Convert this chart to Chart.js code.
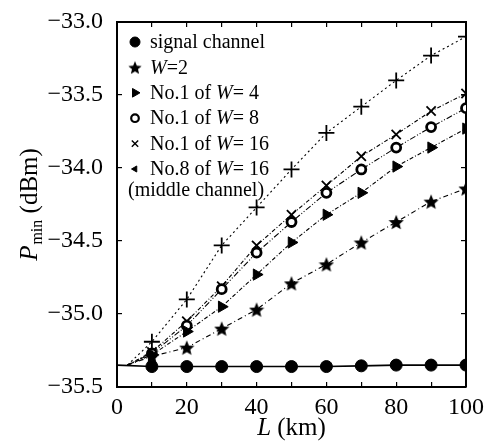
<!DOCTYPE html>
<html lang="en">
  <head>
    <meta charset="UTF-8" />
    <title>Pmin vs L</title>
    <script src="https://cdn.jsdelivr.net/npm/chart.js"></script>
    <style>
      body { margin: 0; background: #fff; }
      canvas { display: block; }
    </style>
  </head>
  <body>
    <canvas id="pminChart" width="486" height="445"></canvas>
    <script>
      // fibre length (km) where markers sit
      const distances = [10, 20, 30, 40, 50, 60, 70, 80, 90, 100];
      // where the fitted curves leave the signal-channel line
      const startL = 3;
      const startP = -35.35;

      const signalChannel = [-35.36, -35.36, -35.36, -35.36, -35.36, -35.36, -35.355, -35.35, -35.35, -35.35];
      const w2 = [-35.29, -35.23, -35.10, -34.97, -34.79, -34.66, -34.51, -34.37, -34.23, -34.14];
      const no1w4 = [-35.28, -35.12, -34.95, -34.73, -34.51, -34.32, -34.17, -33.99, -33.86, -33.73];
      const no1w8 = [-35.27, -35.08, -34.83, -34.58, -34.37, -34.17, -34.01, -33.86, -33.72, -33.59];
      const no1w16 = [-35.26, -35.05, -34.81, -34.53, -34.32, -34.12, -33.92, -33.77, -33.61, -33.49];
      const no8w16 = [-35.19, -34.90, -34.53, -34.27, -34.01, -33.76, -33.58, -33.40, -33.23, -33.10];

      const seriesLabels = ["signal channel", "W=2", "No.1 of W= 4", "No.1 of W= 8", "No.1 of W= 16", "No.8 of W= 16"];
      const xTicks = [0, 10, 20, 30, 40, 50, 60, 70, 80, 90, 100]; // labelled every 20
      const yTicks = [-35.5, -35.0, -34.5, -34.0, -33.5, -33.0];

      const serif = "'Liberation Serif', 'DejaVu Serif', serif";

      // filled five-point star used for W=2
      function makeStar(size) {
        const c = document.createElement("canvas");
        c.width = size;
        c.height = size;
        const g = c.getContext("2d");
        const cx = size / 2, cy = size / 2 + 0.8, ro = size / 2, ri = ro * 0.45;
        g.beginPath();
        for (let i = 0; i < 10; i++) {
          const r = i % 2 ? ri : ro;
          const ang = -Math.PI / 2 + (i * Math.PI) / 5;
          g.lineTo(cx + r * Math.cos(ang), cy + r * Math.sin(ang));
        }
        g.closePath();
        g.fillStyle = "#000";
        g.fill();
        return c;
      }
      const starImg = makeStar(16);
      const starSmall = makeStar(14);

      function withStart(vals) {
        return [{ x: startL, y: startP }].concat(distances.map((x, i) => ({ x: x, y: vals[i] })));
      }
      const hideFirst = (r) => (c) => (c.dataIndex === 0 ? 0 : r);

      const datasets = [
        {
          label: seriesLabels[0],
          data: [{ x: 0, y: startP }].concat(distances.map((x, i) => ({ x: x, y: signalChannel[i] }))),
          borderWidth: 1.6,
          pointStyle: "circle",
          pointRadius: hideFirst(6),
          pointBackgroundColor: "#000",
        },
        {
          label: seriesLabels[1],
          data: withStart(w2),
          borderDash: [5, 3, 1, 3],
          pointStyle: starImg,
          pointRadius: hideFirst(7),
        },
        {
          label: seriesLabels[2],
          data: withStart(no1w4),
          borderDash: [4, 2, 1, 2],
          pointStyle: "triangle",
          pointRotation: 90,
          pointRadius: hideFirst(6.5),
          pointBackgroundColor: "#000",
        },
        {
          label: seriesLabels[3],
          data: withStart(no1w8),
          borderDash: [6, 2, 1, 2, 1, 2],
          pointStyle: "circle",
          pointRadius: hideFirst(4.5),
          pointBorderWidth: 2.8,
          pointBackgroundColor: "#fff",
        },
        {
          label: seriesLabels[4],
          data: withStart(no1w16),
          borderDash: [4, 2, 1, 2],
          pointStyle: "crossRot",
          pointRadius: hideFirst(6.5),
          pointBorderWidth: 1.8,
        },
        {
          label: seriesLabels[5],
          data: withStart(no8w16),
          borderDash: [2, 3],
          pointStyle: "cross",
          pointRadius: hideFirst(8),
          pointBorderWidth: 1.8,
        },
      ].map((d) => Object.assign({ borderColor: "#000", borderWidth: 1.1, showLine: true, fill: false, pointBorderColor: "#000", pointBorderWidth: d.pointBorderWidth || 1 }, d));

      // legend markers (the last one uses a small left triangle, as in the figure)
      const legendMarks = [
        { style: "circle", r: 5, fill: "#000", bw: 1 },
        { style: starSmall, r: 6 },
        { style: "triangle", r: 5, rot: 90, fill: "#000", bw: 1 },
        { style: "circle", r: 3.8, fill: "#fff", bw: 2.2 },
        { style: "crossRot", r: 4.5, bw: 1.4 },
        { style: "triangle", r: 3.5, rot: -90, fill: "#000", bw: 1 },
      ];

      function drawRich(g, text, x, y, size) {
        // W is italic, everything else upright
        const parts = text.split("W");
        parts.forEach((p, i) => {
          g.font = size + "px " + serif;
          g.fillText(p, x, y);
          x += g.measureText(p).width;
          if (i < parts.length - 1) {
            g.font = "italic " + size + "px " + serif;
            g.fillText("W", x, y);
            x += g.measureText("W").width;
          }
        });
      }

      const decor = {
        id: "decor",
        afterDraw(chart) {
          const g = chart.ctx;
          const xs = chart.scales.x, ys = chart.scales.y;
          const f = {
            l: xs.getPixelForValue(0), r: xs.getPixelForValue(100),
            t: ys.getPixelForValue(-33.0), b: ys.getPixelForValue(-35.5),
          };
          g.save();

          // legend inside the plot
          const mx = f.l + 18, tx = f.l + 33;
          g.textBaseline = "middle";
          g.textAlign = "left";
          g.strokeStyle = "#000";
          seriesLabels.forEach((lab, i) => {
            const y = f.t + 20 + i * 25.4;
            const m = legendMarks[i];
            g.lineWidth = m.bw || 1;
            g.fillStyle = m.fill || "#000";
            if (typeof m.style === "string") {
              Chart.helpers.drawPoint(g, { pointStyle: m.style, radius: m.r, rotation: m.rot || 0, borderWidth: m.bw || 1 }, mx, y);
            } else {
              g.drawImage(m.style, mx - m.style.width / 2, y - m.style.height / 2);
            }
            g.fillStyle = "#000";
            drawRich(g, lab, tx, y + 1, 20);
          });
          g.font = "20px " + serif;
          g.fillText("(middle channel)", f.l + 11, f.t + 20 + 6 * 25.4 - 4);

          // x title
          g.textBaseline = "alphabetic";
          g.font = "italic 25px " + serif;
          const wL = g.measureText("L").width;
          g.font = "25px " + serif;
          const wKm = g.measureText(" (km)").width;
          const x0 = (f.l + f.r) / 2 - (wL + wKm) / 2;
          g.font = "italic 25px " + serif;
          g.fillText("L", x0, 435);
          g.font = "25px " + serif;
          g.fillText(" (km)", x0 + wL, 435);

          // y title, rotated
          g.translate(37, (f.t + f.b) / 2);
          g.rotate(-Math.PI / 2);
          g.font = "italic 25px " + serif;
          const wP = g.measureText("P").width;
          g.font = "16px " + serif;
          const wMin = g.measureText("min").width;
          g.font = "25px " + serif;
          const wD = g.measureText(" (dBm)").width;
          const s = -(wP + wMin + 1 + wD) / 2;
          g.font = "italic 25px " + serif;
          g.fillText("P", s, 0);
          g.font = "16px " + serif;
          g.fillText("min", s + wP + 1, 5);
          g.font = "25px " + serif;
          g.fillText(" (dBm)", s + wP + 1 + wMin, 0);
          g.restore();
        },
      };

      // frame side: black 2px border plus short inward ticks
      const frameGrid = { display: true, drawOnChartArea: false, drawTicks: true, tickLength: -5, color: "#000", lineWidth: 1.2 };
      const frameBorder = { display: true, color: "#000", width: 2 };

      const pminChart = new Chart(document.getElementById("pminChart"), {
        type: "line",
        data: { datasets: datasets },
        options: {
          responsive: false,
          animation: false,
          layout: { autoPadding: false, padding: { left: 0, right: 20, top: 22, bottom: 0 } },
          plugins: { legend: { display: false }, tooltip: { enabled: false } },
          scales: {
            x: {
              type: "linear",
              position: "bottom",
              min: 0,
              max: 100,
              afterBuildTicks: (s) => { s.ticks = xTicks.map((v) => ({ value: v })); },
              afterFit: (s) => { s.height = 58; s.paddingLeft = 0; s.paddingRight = 0; },
              grid: frameGrid,
              border: frameBorder,
              ticks: {
                color: "#000",
                padding: 11,
                maxRotation: 0,
                autoSkip: false,
                font: { family: serif, size: 24 },
                callback: (v) => (v % 20 === 0 ? String(v) : ""),
              },
            },
            x2: {
              type: "linear",
              position: "top",
              min: 0,
              max: 100,
              afterBuildTicks: (s) => { s.ticks = xTicks.map((v) => ({ value: v })); },
              afterFit: (s) => { s.height = 0; s.paddingLeft = 0; s.paddingRight = 0; },
              grid: frameGrid,
              border: frameBorder,
              ticks: { display: false },
            },
            y: {
              type: "linear",
              position: "left",
              min: -35.5,
              max: -33.0,
              afterBuildTicks: (s) => { s.ticks = yTicks.map((v) => ({ value: v })); },
              afterFit: (s) => { s.width = 117; s.paddingTop = 0; s.paddingBottom = 0; },
              grid: frameGrid,
              border: frameBorder,
              ticks: {
                color: "#000",
                padding: 19,
                font: { family: serif, size: 24 },
                callback: (v) => "\u2212" + Math.abs(v).toFixed(1),
              },
            },
            y2: {
              type: "linear",
              position: "right",
              min: -35.5,
              max: -33.0,
              afterBuildTicks: (s) => { s.ticks = yTicks.map((v) => ({ value: v })); },
              afterFit: (s) => { s.width = 0; s.paddingTop = 0; s.paddingBottom = 0; },
              grid: frameGrid,
              border: frameBorder,
              ticks: { display: false },
            },
          },
        },
        plugins: [decor],
      });
    </script>
  </body>
</html>
